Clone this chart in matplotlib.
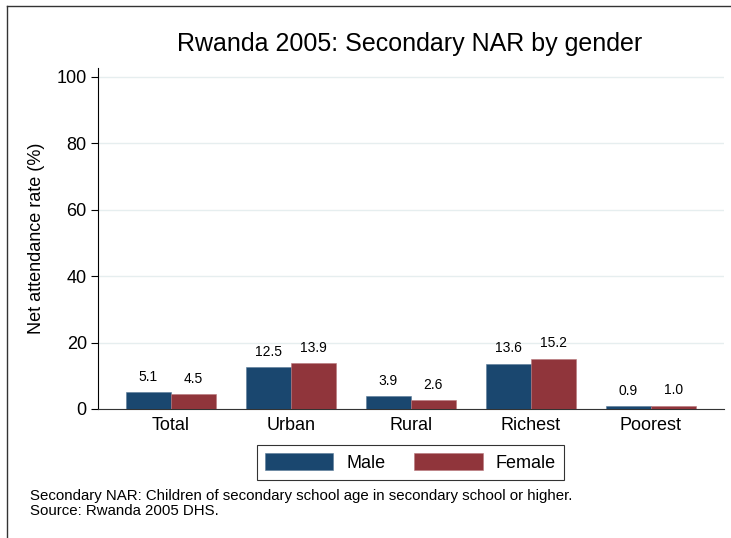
import numpy as np
import matplotlib
matplotlib.use("Agg")
import matplotlib.pyplot as plt
from matplotlib.patches import Patch

plt.rcParams['font.family'] = ['Liberation Sans', 'DejaVu Sans']

categories = ['Total', 'Urban', 'Rural', 'Richest', 'Poorest']
male = [5.1, 12.5, 3.9, 13.6, 0.9]
female = [4.5, 13.9, 2.6, 15.2, 1.0]
yticks = [0, 20, 40, 60, 80, 100]

male_color = '#1a476f'
female_color = '#90353b'

fig = plt.figure(figsize=(7.31, 5.38), dpi=100)
ax = fig.add_axes([0.134, 0.2398, 0.856, 0.6338])

x = np.arange(len(categories))
w = 0.375
bars_m = ax.bar(x - w / 2, male, w, color=male_color, edgecolor='#5b7c99', linewidth=0.4, zorder=3)
bars_f = ax.bar(x + w / 2, female, w, color=female_color, edgecolor='#b7777c', linewidth=0.4, zorder=3)

# value labels above each bar
for bars, vals in [(bars_m, male), (bars_f, female)]:
    for b, v in zip(bars, vals):
        ax.annotate(f'{v:.1f}', (b.get_x() + b.get_width() / 2, v),
                    xytext=(0, 6), textcoords='offset points',
                    ha='center', va='bottom', fontsize=10)

ax.set_xlim(-0.608, len(categories) - 1 + 0.608)
ax.set_ylim(0, 102.7)
ax.set_yticks(yticks)
ax.set_yticklabels([str(t) for t in yticks], fontsize=13)
ax.set_xticks(x)
ax.set_xticklabels(categories, fontsize=13)
ax.tick_params(axis='x', length=0, pad=6)
ax.tick_params(axis='y', length=5, width=0.8, direction='out', pad=3)
ax.set_ylabel('Net attendance rate (%)', fontsize=13, labelpad=8)

ax.grid(axis='y', color='#e6eeef', linewidth=1, zorder=0)
for s in ['top', 'right']:
    ax.spines[s].set_visible(False)
ax.spines['left'].set_linewidth(0.8)
ax.spines['bottom'].set_linewidth(0.8)
ax.spines['bottom'].set_color('#333333')

fig.text(0.561, 0.918, 'Rwanda 2005: Secondary NAR by gender', ha='center', va='center', fontsize=18)

handles = [Patch(facecolor=male_color, edgecolor='#5b7c99', linewidth=0.4),
           Patch(facecolor=female_color, edgecolor='#b7777c', linewidth=0.4)]
leg = fig.legend(handles, ['Male', 'Female'], loc='center', bbox_to_anchor=(0.561, 0.141),
                 ncol=2, fontsize=13, frameon=True, fancybox=False, edgecolor='black',
                 handlelength=3.8, handleheight=1.1, columnspacing=1.6, handletextpad=0.7,
                 borderpad=0.45, borderaxespad=0)
leg.get_frame().set_linewidth(0.8)

fig.text(0.041, 0.064, 'Secondary NAR: Children of secondary school age in secondary school or higher.\nSource: Rwanda 2005 DHS.',
         ha='left', va='center', fontsize=10.8, linespacing=1.1)

# outer border (top and left visible)
fig.add_artist(plt.Line2D([0.0096, 0.0096], [0, 0.989], color='#333333', linewidth=1, transform=fig.transFigure))
fig.add_artist(plt.Line2D([0.0096, 1.0], [0.989, 0.989], color='#333333', linewidth=1, transform=fig.transFigure))

fig.savefig('out.png', dpi=100, facecolor='white')
